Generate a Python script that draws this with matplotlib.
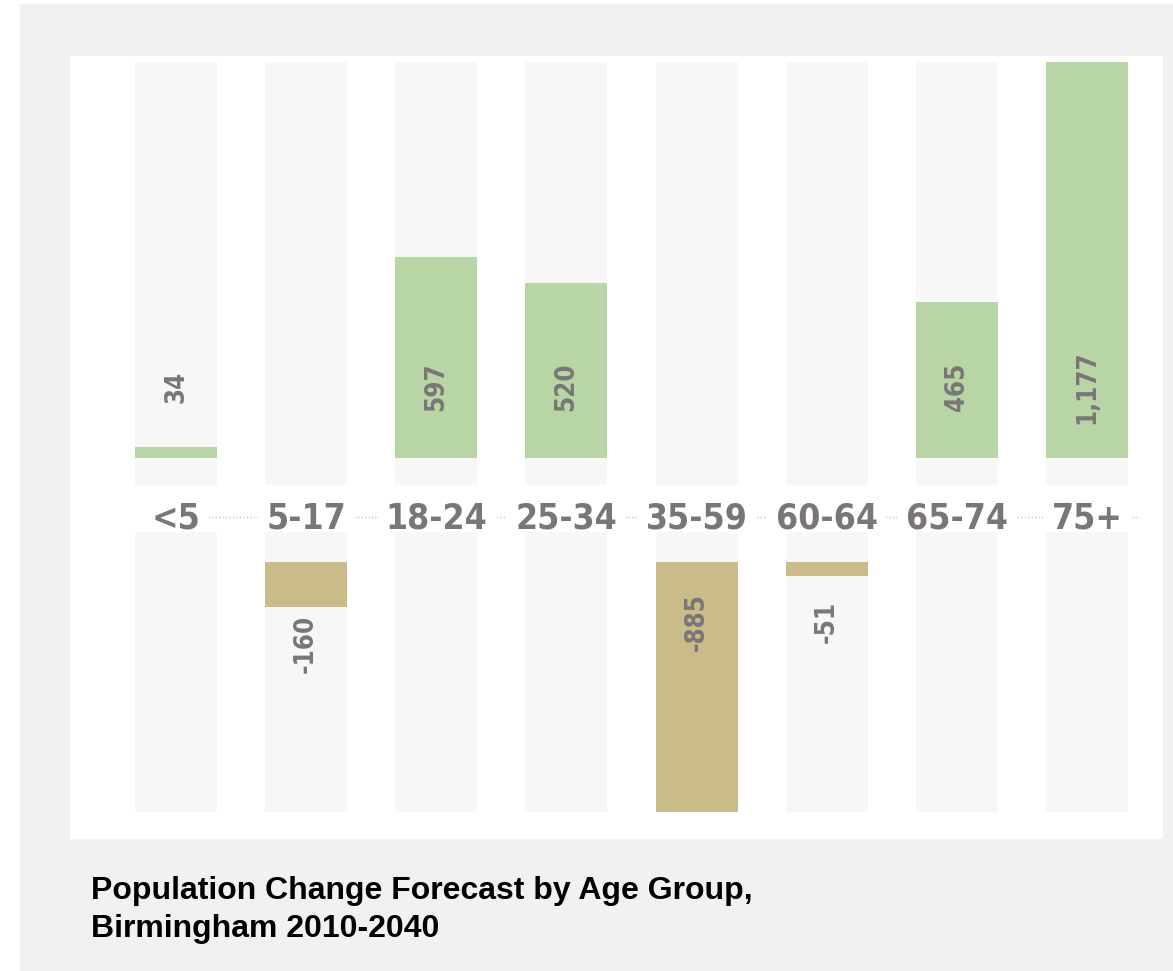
import matplotlib
matplotlib.use("Agg")
import matplotlib.pyplot as plt
import matplotlib.transforms as mtransforms
from matplotlib import font_manager
from matplotlib.patches import Rectangle

# data
age_groups = ["<5", "5-17", "18-24", "25-34", "35-59", "60-64", "65-74", "75+"]
change = [34, -160, 597, 520, -885, -51, 465, 1177]
value_labels = ["34", "-160", "597", "520", "-885", "-51", "465", "1,177"]

GREEN = "#b8d5a5"
TAN = "#c9bc88"
BACK = "#f8f7f7"
LABEL = "#7a7677"

# look for a condensed bold face, otherwise plain Liberation Sans bold
cond_file = None
for f in font_manager.fontManager.ttflist:
    name = (f.name + " " + f.fname).lower()
    if ("narrow" in name or "condensed" in name) and ("bold" in f.fname.lower() or f.weight in (700, "bold")):
        if "oblique" in name or "italic" in name:
            continue
        cond_file = f.fname
        break

def cond_font(size):
    if cond_file:
        return font_manager.FontProperties(fname=cond_file, size=size)
    return font_manager.FontProperties(family="Liberation Sans", weight="bold", size=size * 0.84)

W, H = 1173, 971
fig = plt.figure(figsize=(W / 100, H / 100), dpi=100, facecolor="white")

def px_box(x0, y0, x1, y1):
    # pixel box (top-left origin) -> figure fraction rect
    return [x0 / W, (H - y1) / H, (x1 - x0) / W, (y1 - y0) / H]

# grey frame and white panel
fig.patches.append(Rectangle((20 / W, 0), 1, (H - 4) / H, transform=fig.transFigure,
                             facecolor="#f1f1f1", edgecolor="none", zorder=-10))
fig.patches.append(Rectangle((70 / W, (H - 839) / H), (1163 - 70) / W, (839 - 56) / H,
                             transform=fig.transFigure, facecolor="white",
                             edgecolor="none", zorder=-9))

x = list(range(len(age_groups)))
xlim = (-0.8145, 7.584)
bw = 0.63

# category band (drawn underneath the bar axes)
ax_mid = fig.add_axes(px_box(70, 485, 1163, 532))
ax_mid.set_zorder(0)
ax_mid.set_xlim(*xlim)
ax_mid.set_ylim(0, 1)
ax_mid.plot([-0.1, 7.4], [0.32, 0.32], ls=(0, (1, 1.5)), color="#c4c4c4", lw=1.0, zorder=1)
for xi, lab in zip(x, age_groups):
    ax_mid.text(xi, 0.085, lab, ha="center", va="baseline", fontproperties=cond_font(25.5),
                color=LABEL, zorder=2,
                bbox=dict(facecolor="white", edgecolor="none", pad=6))

# positive half
ax_top = fig.add_axes(px_box(70, 62, 1163, 485))
ax_top.set_zorder(1)
ax_top.set_xlim(*xlim)
ax_top.set_ylim(-80.3, 1177)
y0, y1 = ax_top.get_ylim()
ax_top.bar(x, y1 - y0, bottom=y0, width=bw, color=BACK, zorder=1)
pos = [v if v > 0 else 0 for v in change]
ax_top.bar(x, pos, width=bw, color=GREEN, zorder=2)
trans = mtransforms.blended_transform_factory(ax_top.transData, ax_top.transAxes)
for xi, v, lab in zip(x, change, value_labels):
    if v > 0:
        ax_top.text(xi, 0.232, lab, transform=trans, rotation=90, ha="center", va="center",
                    fontproperties=cond_font(18.5), color=LABEL, zorder=3)

# negative half
ax_bot = fig.add_axes(px_box(70, 532, 1163, 812))
ax_bot.set_zorder(1)
ax_bot.set_xlim(*xlim)
ax_bot.set_ylim(-885, 106.2)
y0, y1 = ax_bot.get_ylim()
ax_bot.bar(x, y1 - y0, bottom=y0, width=bw, color=BACK, zorder=1)
neg = [v if v < 0 else 0 for v in change]
ax_bot.bar(x, neg, width=bw, color=TAN, zorder=2)
for xi, v, lab in zip(x, change, value_labels):
    if v < 0:
        ypos = -212 if abs(v) > 400 else min(-212, v - 130)
        ax_bot.text(xi, ypos, lab, rotation=90, ha="center", va="center",
                    fontproperties=cond_font(18.5), color=LABEL, zorder=3)

for ax in (ax_top, ax_bot, ax_mid):
    ax.axis("off")

fig.text(91 / W, (H - 899) / H, "Population Change Forecast by Age Group,",
         fontsize=23, fontweight="bold", color="black", family="Liberation Sans", va="baseline")
fig.text(91 / W, (H - 937) / H, "Birmingham 2010-2040",
         fontsize=23, fontweight="bold", color="black", family="Liberation Sans", va="baseline")

fig.savefig("out.png", dpi=100, facecolor=fig.get_facecolor())
